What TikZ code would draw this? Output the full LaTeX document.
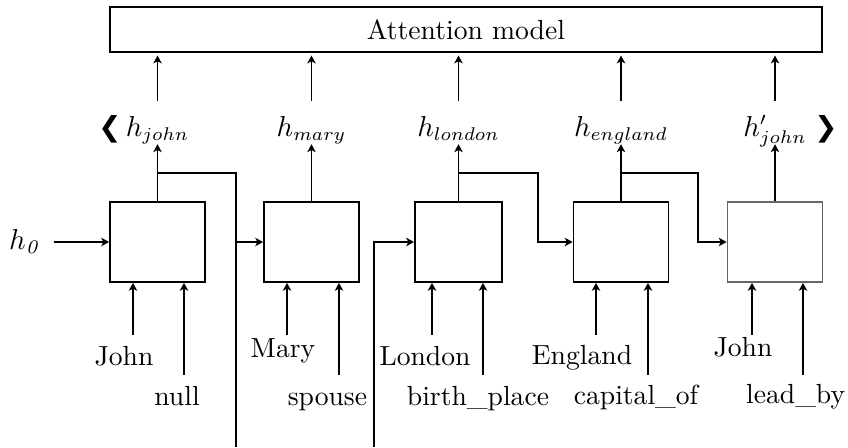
\documentclass[tikz,border=0pt]{standalone}
\usepackage{fontspec}
\newfontfamily\chevfont{DejaVu Sans}
\usetikzlibrary{arrows.meta, calc, positioning}
\tikzset{
  >={Stealth[length=3pt,width=3.2pt,inset=0.8pt]},
  cell/.style={draw, minimum width=36.1pt, minimum height=30.4pt, inner sep=0pt},
  hlabel/.style={inner sep=0pt, anchor=base, text height=13pt, text depth=2.8pt},
  word/.style={inner sep=0pt, anchor=base},
}
\begin{document}
\begin{tikzpicture}[x=0.38pt, y=-0.38pt, line width=0.65pt, font=\fontsize{10.5}{12.5}\selectfont]
  \useasboundingbox (0,0) rectangle (848,447);
  % attention block
  \draw (466,29.5) node[draw, minimum width=270.6pt, minimum height=17.1pt, inner sep=0pt] (att) {Attention model};
  % cells
  \draw (157.5,242) node[cell] (c1) {};
  \draw (311.5,242) node[cell] (c2) {};
  \draw (458.5,242) node[cell, minimum width=33.1pt] (c3) {};
  \draw (621,242) node[cell] (c4) {};
  \draw (775,242) node[cell, draw=black!60] (c5) {};
  % hidden states
  \draw (157.5,136) node[hlabel] (hjohn) {$h_{john}$};
  \draw (311.5,136) node[hlabel] (hmary) {$h_{mary}$};
  \draw (458.5,136) node[hlabel] (hlondon) {$h_{london}$};
  \draw (621,136) node[hlabel] (hengland) {$h_{england}$};
  \draw (775,136) node[hlabel] (hjohnb) {$h'_{john}$};
  \draw (24,242) node (h0) {$h_{\mathit{0}}$};
  \draw (110,129) node (lt) {\chevfont ❮};
  \draw (826,129) node (gt) {\chevfont ❯};
  % inputs
  \draw (124,365) node[word] (w1) {John};
  \draw (177,405) node[word] (r1) {null};
  \draw (283,357) node[word] (w2) {Mary};
  \draw (368,405) node[word, anchor=base east] (r2) {spouse};
  \draw (425,365) node[word] (w3) {London};
  \draw (478,405) node[word] (r3) {birth\_place};
  \draw (582,364) node[word] (w4) {England};
  \draw (636,404) node[word] (r4) {capital\_of};
  \draw (743,356) node[word] (w5) {John};
  \draw (846,403) node[word, anchor=base east] (r5) {lead\_by};
  \coordinate (a1) at (133,335); \coordinate (b1) at (184,375);
  \coordinate (a2) at (287,335); \coordinate (b2) at (339,375);
  \coordinate (a3) at (432,335); \coordinate (b3) at (483,375);
  \coordinate (a4) at (596,335); \coordinate (b4) at (648,375);
  \coordinate (a5) at (752,335); \coordinate (b5) at (803,375);
  \path[->]
    (a1) edge (a1 |- c1.south)
    (b1) edge (b1 |- c1.south)
    (a2) edge (a2 |- c2.south)
    (b2) edge (b2 |- c2.south)
    (a3) edge (a3 |- c3.south)
    (b3) edge (b3 |- c3.south)
    (a4) edge (a4 |- c4.south)
    (b4) edge (b4 |- c4.south)
    (a5) edge (a5 |- c5.south)
    (b5) edge (b5 |- c5.south)
    (h0) edge[shorten <=2pt] (c1);
  % outputs
  \path[->]
    (c1) edge (hjohn)
    (c2) edge (hmary)
    (c3) edge (hlondon)
    (c4) edge (hengland)
    (c5) edge (hjohnb)
    (hjohn) edge[shorten >=1pt] (hjohn |- att.south)
    (hmary) edge[shorten >=1pt] (hmary |- att.south)
    (hlondon) edge[shorten >=1pt] (hlondon |- att.south)
    (hengland) edge[shorten >=1pt] (hengland |- att.south)
    (hjohnb) edge[shorten >=1pt] (hjohnb |- att.south);
  % recurrent links
  \coordinate (j1) at (157.5,173); \coordinate (d1) at (236,447);
  \draw (j1) -| (d1);
  \draw[->] (d1 |- c2.west) -- (c2.west);
  \coordinate (d2) at (374,447);
  \draw[->] (d2) |- (c3.west);
  \coordinate (j3) at (458.5,173); \coordinate (k3) at (538,173);
  \draw[->] (j3) -- (k3) |- (c4.west);
  \coordinate (j4) at (621,173); \coordinate (k4) at (698,173);
  \draw[->] (j4) -- (k4) |- (c5.west);
\end{tikzpicture}
\end{document}
